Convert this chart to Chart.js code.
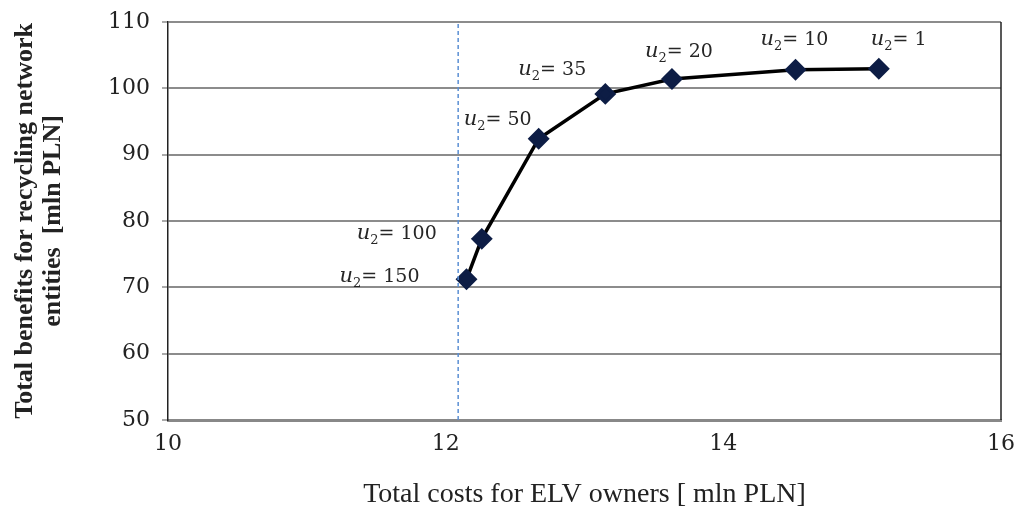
<!DOCTYPE html>
<html>
<head>
<meta charset="utf-8">
<script src="https://cdn.jsdelivr.net/npm/chart.js@4"></script>
<style>
  html, body { margin: 0; padding: 0; background: #fff; }
  #wrap { width: 1018px; height: 515px; }
</style>
</head>
<body>
<div id="wrap"><canvas id="chart" width="1018" height="515"></canvas></div>
<script>
// data
const costs = [12.15, 12.26, 12.67, 13.15, 13.63, 14.52, 15.12];
const benefits = [71.2, 77.3, 92.4, 99.15, 101.4, 102.8, 102.95];
const u2Values = [150, 100, 50, 35, 20, 10, 1];
const limitX = 12.09;
const yRange = [50, 110];
const xRange = [10, 16];

// label placement (px from the marker: left edge, baseline)
const labelOffsets = [[-127, 3], [-125, 0], [-75, -14], [-87, -19], [-27, -22], [-35, -25], [-8, -24]];

const SERIF = '"Liberation Serif", "DejaVu Serif", serif';
const DJ = '"DejaVu Serif", serif';

const u2Labels = {
  id: "u2Labels",
  afterDatasetsDraw(chart) {
    const ctx = chart.ctx;
    const meta = chart.getDatasetMeta(1);
    meta.data.forEach((pt, i) => {
      let x = pt.x + labelOffsets[i][0];
      const y = pt.y + labelOffsets[i][1];
      ctx.save();
      ctx.fillStyle = "#262626";
      ctx.textBaseline = "alphabetic";
      ctx.textAlign = "left";
      ctx.font = "italic 21px " + DJ;
      ctx.fillText("u", x, y);
      x += ctx.measureText("u").width;
      ctx.font = "13px " + DJ;
      ctx.fillText("2", x, y + 5);
      x += ctx.measureText("2").width;
      ctx.font = "19px " + DJ;
      ctx.fillText("= " + u2Values[i], x, y);
      ctx.restore();
    });
  },
};

const frame = {
  id: "frame",
  afterDraw(chart) {
    const { ctx, chartArea: a } = chart;
    ctx.save();
    ctx.strokeStyle = "#222";
    ctx.lineWidth = 1.5;
    ctx.beginPath();
    ctx.moveTo(a.right, a.top);
    ctx.lineTo(a.right, a.bottom);
    ctx.stroke();
    ctx.restore();
  },
};

new Chart(document.getElementById("chart"), {
  type: "scatter",
  data: {
    datasets: [
      {
        data: [{ x: limitX, y: yRange[0] }, { x: limitX, y: yRange[1] }],
        showLine: true,
        borderColor: "#5a8fd4",
        borderWidth: 1.5,
        borderDash: [4, 3],
        pointRadius: 0,
      },
      {
        data: costs.map((c, i) => ({ x: c, y: benefits[i] })),
        showLine: true,
        borderColor: "#000",
        borderWidth: 3.5,
        pointStyle: "rectRot",
        pointRadius: 8.5,
        pointBackgroundColor: "#0d1d45",
        pointBorderColor: "#0d1d45",
      },
    ],
  },
  options: {
    responsive: false,
    animation: false,
    layout: { padding: { top: 19, right: 17, left: 8, bottom: 0 } },
    plugins: { legend: { display: false }, tooltip: { enabled: false } },
    scales: {
      x: {
        type: "linear",
        min: xRange[0],
        max: xRange[1],
        ticks: { stepSize: 2, color: "#222", font: { family: DJ, size: 22 }, padding: 3 },
        grid: { display: false, drawTicks: true },
        border: { color: "#888", width: 3 },
        title: {
          display: true,
          text: "Total costs for ELV owners [ mln PLN]",
          color: "#222",
          font: { family: SERIF, size: 28 },
          padding: { top: 20 },
        },
        afterFit(s) { s.height = 95; },
      },
      y: {
        min: yRange[0],
        max: yRange[1],
        ticks: { stepSize: 10, color: "#222", font: { family: DJ, size: 22, lineHeight: 0.9 }, padding: 12 },
        grid: { color: "#8c8c8c", lineWidth: 2, tickLength: 6, tickColor: "#aaa" },
        border: { color: "#222", width: 1.5 },
        title: {
          display: true,
          text: ["Total benefits for recycling network", "entities  [mln PLN]"],
          color: "#222",
          font: { family: SERIF, size: 26, weight: "bold", lineHeight: 1.05 },
          padding: { bottom: 2 },
        },
        afterFit(s) { s.width = 160; },
      },
    },
  },
  plugins: [u2Labels, frame],
});
</script>
</body>
</html>
